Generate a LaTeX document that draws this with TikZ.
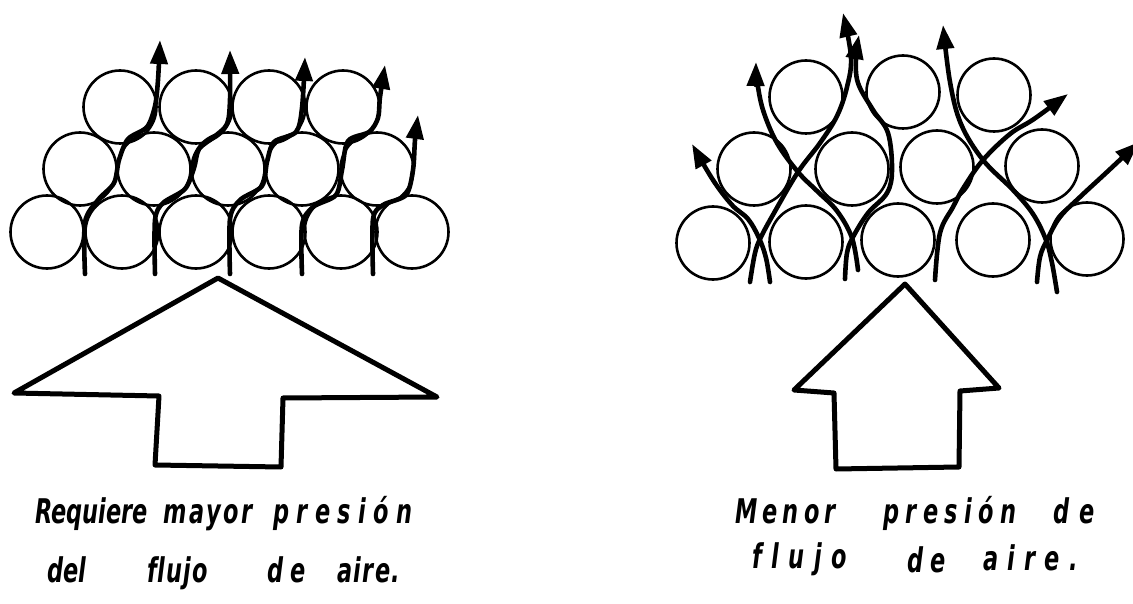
\documentclass[tikz,border=0pt]{standalone}
\usepackage{fontspec}
\setmainfont{DejaVu Sans}
\newfontfamily\handfont[FakeStretch=0.66,Ligatures=NoCommon]{DejaVu Sans Bold Oblique}
\usetikzlibrary{arrows.meta}
\tikzset{
  ball/.style={line width=2.6pt},
  flow/.style={line width=4.6pt, line cap=round, line join=round,
    -{Triangle[length=24pt,width=17pt]}},
  bigarrow/.style={line width=5pt, line join=round},
  word/.style={anchor=base west, inner sep=0pt,
    font=\handfont\fontsize{34}{38}\selectfont},
  spaced/.style={font=\handfont\fontsize{34}{38}\selectfont
    \addfontfeature{LetterSpace=#1}},
}
\begin{document}
\begin{tikzpicture}[x=1pt,y=-1pt]
\useasboundingbox (0,0) rectangle (1133,604);

% ---- dense packing (left) ----
\foreach \x in {47,122,196,269,341,412} \draw[ball] (\x,232) circle (36.5);
\foreach \x in {80,154,228,302,377} \draw[ball] (\x,169) circle (36.5);
\foreach \x in {120,196,269,343} \draw[ball] (\x,107) circle (36.5);

% air forced through the narrow gaps
\draw[flow] plot[smooth,tension=0.5] coordinates
  {(85,274) (85,222) (98,200) (114,183) (119,160) (128,139) (147,127) (155,106) (158,80) (160,40)};
\draw[flow] plot[smooth,tension=0.5] coordinates
  {(155,274) (155,220) (163,203) (185,189) (194,168) (199,149) (214,137) (227,124) (230,100) (230,50)};
\draw[flow] plot[smooth,tension=0.5] coordinates
  {(230,274) (230,219) (240,200) (262,186) (267,162) (274,142) (296,132) (302,108) (305,57)};
\draw[flow] plot[smooth,tension=0.5] coordinates
  {(302,274) (302,225) (313,207) (336,195) (342,170) (348,141) (369,132) (378,118) (380,97) (385,65)};
\draw[flow] plot[smooth,tension=0.5] coordinates
  {(373,274) (373,219) (383,205) (406,195) (413,170) (415,140) (418,115)};

% big arrow (left)
\draw[bigarrow] (218,278) -- (437,397) -- (283,398) -- (281,467) -- (155,465)
  -- (159,396) -- (14,393) -- cycle;

% ---- open packing (right) ----
\foreach \x/\y in {713/243,806/242,898/240,993/240,1087/239} \draw[ball] (\x,\y) circle (36.5);
\foreach \x/\y in {754/169,852/169,937/167,1042/166} \draw[ball] (\x,\y) circle (36.5);
\foreach \x/\y in {806/97,903/92,994/95} \draw[ball] (\x,\y) circle (36.5);

% air winding freely between the spheres
\draw[flow] plot[smooth,tension=0.6] coordinates
  {(770,282) (766,258) (759,238) (748,219) (732,205) (713,180) (692,144)};
\draw[flow] plot[smooth,tension=0.6] coordinates
  {(750,282) (755,253) (761,237) (774,213) (798,172) (820,143) (837,116) (847,87) (851,57) (843,13)};
\draw[flow] plot[smooth,tension=0.6] coordinates
  {(858,270) (852,238) (837,211) (817,191) (798,172) (777,143) (763,110) (757,80) (756,62)};
\draw[flow] plot[smooth,tension=0.6] coordinates
  {(845,279) (847,253) (853,237) (868,213) (887,193) (892,170) (888,133) (873,110) (858,83) (856,58) (859,35)};
\draw[flow] plot[smooth,tension=0.6] coordinates
  {(935,280) (940,233) (953,207) (964,187) (983,160) (1010,134) (1034,119) (1068,94)};
\draw[flow] plot[smooth,tension=0.6] coordinates
  {(1057,292) (1052,263) (1046,240) (1033,214) (1013,190) (983,160) (961,124) (950,82) (943,25)};
\draw[flow] plot[smooth,tension=0.6] coordinates
  {(1037,282) (1040,257) (1047,240) (1060,217) (1080,197) (1107,172) (1139,142)};

% big arrow (right)
\draw[bigarrow] (905,284) -- (999,388) -- (960,391) -- (959,467) -- (836,469)
  -- (834,393) -- (794,390) -- cycle;

% ---- captions ----
\node[word] (l1a) at (35,523)  {Requiere};
\node[word,spaced=8]  (l1b) at (163,523) {mayor};
\node[word,spaced=22] (l1c) at (273,523) {presión};
\node[word] (l2a) at (47,582)  {del};
\node[word,spaced=3]  (l2b) at (147,582) {flujo};
\node[word,spaced=20] (l2c) at (267,582) {de};
\node[word,spaced=4]  (l2d) at (337,582) {aire.};

\node[word,spaced=15] (r1a) at (735,523)  {Menor};
\node[word,spaced=19] (r1b) at (883,523)  {presión};
\node[word,spaced=30] (r1c) at (1053,523) {de};
\node[word,spaced=28] (r2a) at (752,568)  {flujo};
\node[word,spaced=22] (r2b) at (907,572)  {de};
\node[word,spaced=27] (r2c) at (983,570)  {aire.};
\end{tikzpicture}
\end{document}
